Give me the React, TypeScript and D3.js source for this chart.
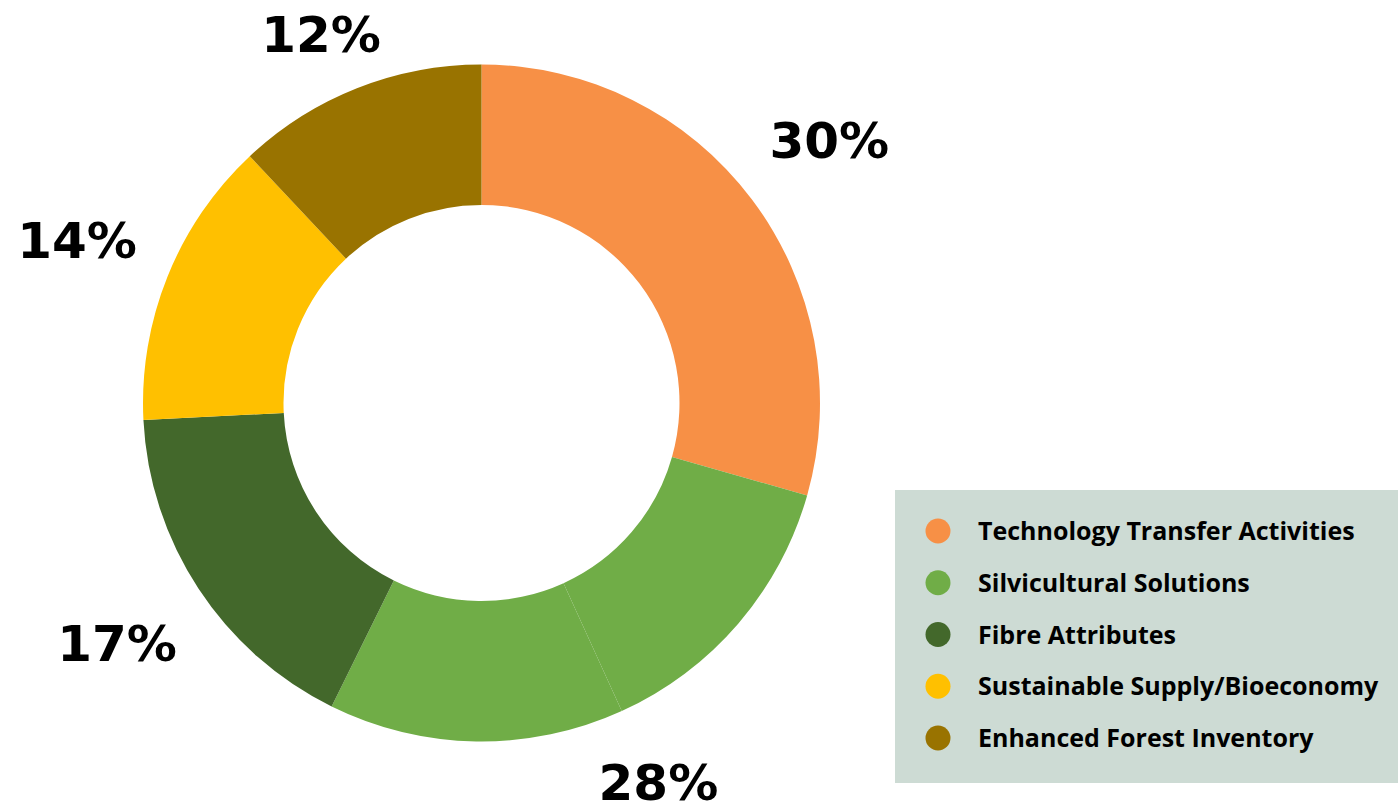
import React from "react";
import * as d3 from "d3";

const categories = [
  "Technology Transfer Activities",
  "Silvicultural Solutions",
  "Fibre Attributes",
  "Sustainable Supply/Bioeconomy",
  "Enhanced Forest Inventory",
];
const values = [29.4, 27.9, 16.9, 13.8, 12.0];
const percentLabels = ["30%", "28%", "17%", "14%", "12%"];
const colors = ["#F79046", "#70AD47", "#43682B", "#FFC000", "#997300"];
// the Silvicultural Solutions slice is drawn in two touching parts
const silviculturalParts = [13.8, 14.1];

const W = 1398;
const H = 806;
const cx = 481.5;
const cy = 403;
const outerR = 338.5;
const innerR = 198;
const labelR = 436;
const labelFont = 50;
const capH = labelFont * 0.729;

export default function App() {
  const pie = d3.pie<number>().sort(null).value((d) => d);
  const catArcs = pie(values);

  const segments: { v: number; c: number }[] = [];
  values.forEach((v, i) => {
    if (i === 1) silviculturalParts.forEach((p) => segments.push({ v: p, c: i }));
    else segments.push({ v, c: i });
  });
  const segArcs = d3
    .pie<{ v: number; c: number }>()
    .sort(null)
    .value((d) => d.v)(segments);

  const arc = d3
    .arc<d3.PieArcDatum<any>>()
    .innerRadius(innerR)
    .outerRadius(outerR);

  const legendX = 895;
  const legendY = 490;
  const legendW = 503;
  const legendH = 293;
  const rowY = d3
    .scalePoint<number>()
    .domain(d3.range(categories.length))
    .range([531, 738]);

  const minCy = capH / 2 + 16;
  const maxCy = H - capH / 2 - 6;

  return (
    <svg width={W} height={H} style={{ position: "absolute", left: 0, top: 0 }}>
      <rect width={W} height={H} fill="#ffffff" />
      {segArcs.map((a, i) => (
        <path
          key={i}
          transform={`translate(${cx},${cy})`}
          d={arc(a) as string}
          fill={colors[a.data.c]}
        />
      ))}
      {catArcs.map((a, i) => {
        const mid = (a.startAngle + a.endAngle) / 2;
        const x = cx + labelR * Math.sin(mid);
        const yc = Math.max(minCy, Math.min(maxCy, cy - labelR * Math.cos(mid)));
        return (
          <text
            key={i}
            x={x}
            y={yc + capH / 2}
            textAnchor="middle"
            fontFamily="DejaVu Sans"
            fontWeight="bold"
            fontSize={labelFont}
            fill="#000"
          >
            {percentLabels[i]}
          </text>
        );
      })}
      <rect x={legendX} y={legendY} width={legendW} height={legendH} fill="#CDDBD4" />
      {categories.map((c, i) => (
        <g key={c}>
          <circle cx={938} cy={rowY(i)} r={12.5} fill={colors[i]} />
          <text
            x={978}
            y={(rowY(i) as number) + 9}
            fontFamily="Open Sans"
            fontWeight={700}
            fontSize={25}
            fill="#000"
          >
            {c}
          </text>
        </g>
      ))}
    </svg>
  );
}
